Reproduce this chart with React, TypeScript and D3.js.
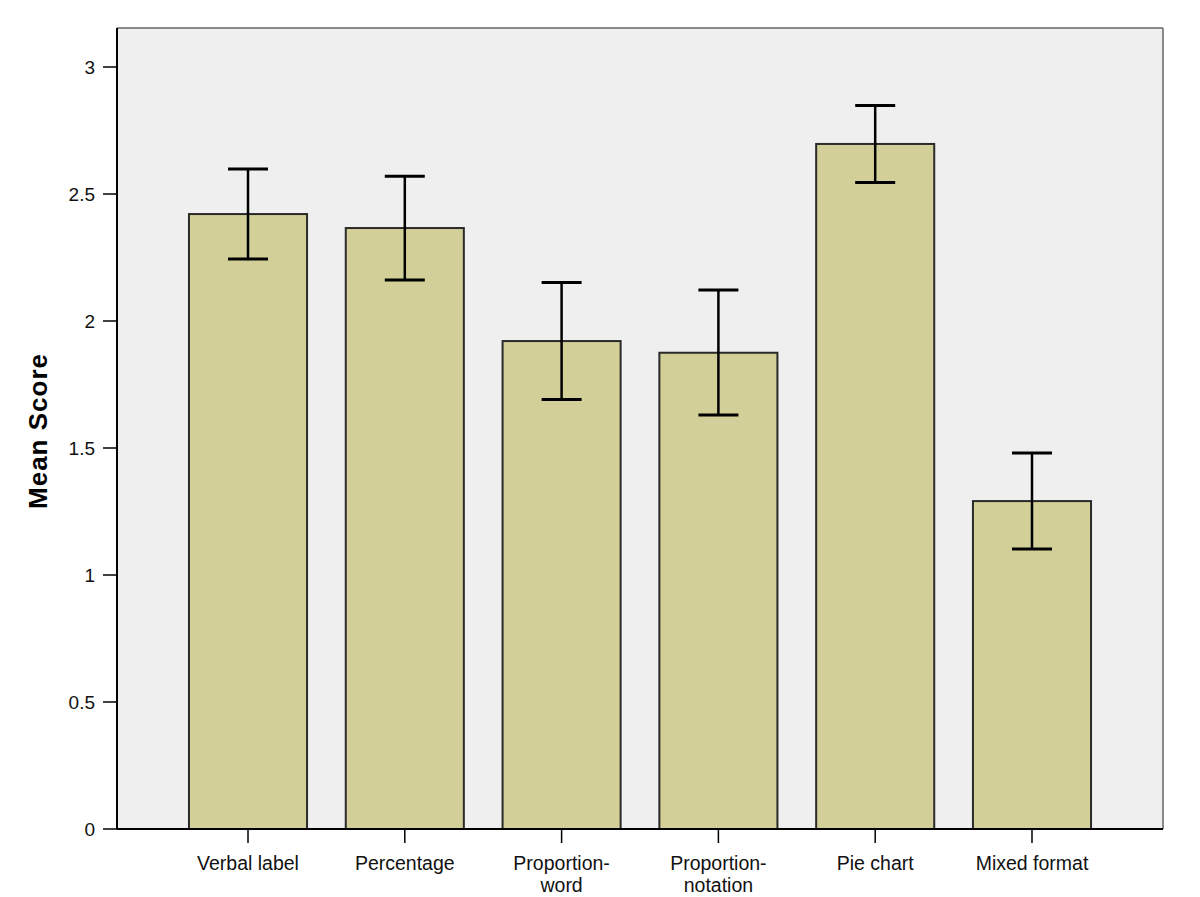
import React from "react";
import * as d3 from "d3";

const categories: string[][] = [
  ["Verbal label"],
  ["Percentage"],
  ["Proportion-", "word"],
  ["Proportion-", "notation"],
  ["Pie chart"],
  ["Mixed format"],
];
const means = [2.421, 2.366, 1.921, 1.875, 2.697, 1.291];
const errLow = [2.244, 2.161, 1.691, 1.63, 2.545, 1.102];
const errHigh = [2.598, 2.57, 2.152, 2.122, 2.848, 1.48];
const yTicks = [0, 0.5, 1, 1.5, 2, 2.5, 3];

export default function App() {
  const W = 1200, H = 897;
  const left = 117, right = 1163, top = 28, bottom = 829;
  const keys = categories.map((c) => c.join(" "));
  const x = d3.scaleBand<string>().domain(keys).range([left, right]).paddingInner(0.247).paddingOuter(0.459);
  const y = d3.scaleLinear().domain([0, 3]).range([bottom, bottom - 3 * 254]);
  const font = "Arial, 'Liberation Sans', sans-serif";
  const capHalf = 20;
  return (
    <svg width={W} height={H} style={{ position: "absolute", left: 0, top: 0, background: "#fff" }}>
      <rect x={left} y={top} width={right - left} height={bottom - top} fill="#efefef" />
      <line x1={left} y1={top} x2={right} y2={top} stroke="#666" strokeWidth={1.5} />
      <line x1={right} y1={top} x2={right} y2={bottom} stroke="#666" strokeWidth={1.5} />
      {keys.map((k, i) => {
        const bx = x(k)!;
        const bw = x.bandwidth();
        const cx = bx + bw / 2;
        return (
          <g key={k}>
            <rect x={bx} y={y(means[i])} width={bw} height={y(0) - y(means[i])} fill="#d3cf99" stroke="#2a2a2a" strokeWidth={2} />
            <line x1={cx} x2={cx} y1={y(errHigh[i])} y2={y(errLow[i])} stroke="#000" strokeWidth={2.5} />
            <line x1={cx - capHalf} x2={cx + capHalf} y1={y(errHigh[i])} y2={y(errHigh[i])} stroke="#000" strokeWidth={3} />
            <line x1={cx - capHalf} x2={cx + capHalf} y1={y(errLow[i])} y2={y(errLow[i])} stroke="#000" strokeWidth={3} />
            <line x1={cx} x2={cx} y1={bottom} y2={bottom + 14} stroke="#000" strokeWidth={1.5} />
            {categories[i].map((line, j) => (
              <text key={j} x={cx} y={870 + j * 22} textAnchor="middle" fontFamily={font} fontSize={19.5} fill="#111">
                {line}
              </text>
            ))}
          </g>
        );
      })}
      <line x1={left} y1={top} x2={left} y2={bottom} stroke="#000" strokeWidth={2} />
      <line x1={left} y1={bottom} x2={right} y2={bottom} stroke="#000" strokeWidth={2} />
      {yTicks.map((t) => (
        <g key={t}>
          <line x1={left - 14} x2={left} y1={y(t)} y2={y(t)} stroke="#000" strokeWidth={1.5} />
          <text x={95} y={y(t) + 7} textAnchor="end" fontFamily={font} fontSize={19} fill="#111">
            {t}
          </text>
        </g>
      ))}
      <text
        transform={`translate(47, 431) rotate(-90)`}
        textAnchor="middle"
        fontFamily={font}
        fontSize={26}
        fontWeight="bold"
        letterSpacing={1}
        fill="#000"
      >
        Mean Score
      </text>
    </svg>
  );
}
